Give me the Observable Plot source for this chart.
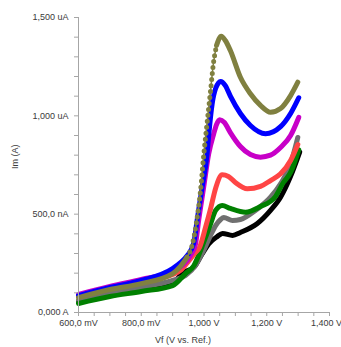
<!DOCTYPE html>
<html>
<head>
<meta charset="utf-8">
<script src="https://cdn.jsdelivr.net/npm/d3@7"></script>
<script src="https://cdn.jsdelivr.net/npm/@observablehq/plot@0.6"></script>
<style>
  html, body { margin: 0; padding: 0; background: #fff; }
  #chart { width: 341px; height: 347px; }
</style>
</head>
<body>
<div id="chart"></div>
<script>
// Potential (mV) vs current (uA)
const olive = [[600,76],[700,117],[800,147],[900,198],[925,234],[946,281],[962,341],[976,458],[989,620],[999,798],[1010,966],[1021,1129],[1030,1266],[1040,1358],[1055,1405],[1068,1383],[1084,1332],[1116,1196],[1148,1112],[1180,1053],[1212,1018],[1244,1037],[1276,1103],[1299,1171]];
const blue = [[600,86],[700,127],[800,163],[900,224],[925,254],[947,290],[967,351],[978,468],[994,636],[1010,809],[1015,900],[1026,1061],[1037,1139],[1053,1175],[1068,1154],[1084,1100],[1116,1012],[1148,951],[1196,909],[1244,945],[1276,1012],[1302,1092]];
const magenta = [[600,92],[700,132],[800,168],[900,208],[931,239],[957,290],[973,349],[983,468],[999,637],[1015,807],[1031,909],[1040,956],[1050,980],[1065,966],[1084,915],[1116,844],[1148,803],[1180,790],[1212,800],[1244,839],[1276,900],[1302,992]];
const red = [[600,81],[700,122],[800,158],[900,193],[925,214],[952,264],[970,300],[986,332],[1005,434],[1022,535],[1038,637],[1058,700],[1078,692],[1100,661],[1138,629],[1180,641],[1212,671],[1244,705],[1276,773],[1299,854]];
const green = [[600,46],[700,81],[800,107],[900,137],[941,198],[968,239],[989,315],[1005,383],[1021,451],[1037,519],[1058,544],[1084,529],[1132,510],[1180,539],[1226,586],[1253,661],[1276,712],[1302,827]];
const gray = [[600,61],[700,97],[800,127],[900,163],[941,188],[973,239],[989,285],[1005,336],[1021,392],[1037,442],[1053,473],[1063,483],[1091,468],[1116,473],[1164,519],[1212,586],[1244,654],[1276,756],[1299,890]];
const black = [[600,56],[700,92],[800,122],[900,153],[936,205],[968,230],[994,298],[1015,349],[1042,386],[1059,402],[1091,392],[1116,407],[1169,451],[1212,519],[1244,586],[1276,692],[1305,815]];

const seriesNames = ["black","gray","green","red","magenta","blue","olive"];
const seriesData = [black, gray, green, red, magenta, blue, olive];
const seriesColors = ["#000000","#707070","#008000","#ff4545","#c800c8","#0000ff","#808040"];

const xTicks = [600, 800, 1000, 1200, 1400];
const xTickLabels = ["600,0 mV", "800,0 mV", "1,000 V", "1,200 V", "1,400 V"];
const yTicks = [0, 500, 1000, 1500];
const yTickLabels = ["0,000 A", "500,0 nA", "1,000 uA", "1,500 uA"];
const xTitle = "Vf (V vs. Ref.)";
const yTitle = "Im (A)";

const rows = seriesData.flatMap((arr, k) => arr.map(([v, i]) => ({series: seriesNames[k], v, i})));
const colorOf = Object.fromEntries(seriesNames.map((n, k) => [n, seriesColors[k]]));

const font = "Liberation Sans, Arial, sans-serif";
const axisColor = "#a6a6a6";
const textColor = "#3a3a3a";

const lineMarks = seriesNames.filter(n => n !== "olive").map(n =>
  Plot.line(rows.filter(d => d.series === n), {x: "v", y: "i", stroke: colorOf[n], strokeWidth: 5, curve: "monotone-x", strokeLinejoin: "round", strokeLinecap: "round"})
);
// olive: solid where points are dense, beaded on the steep rise
const oliveRows = rows.filter(d => d.series === "olive");
const oliveLow = oliveRows.filter(d => d.v <= 946);
const oliveRise = oliveRows.filter(d => d.v >= 946 && d.v <= 1040);
const oliveHigh = oliveRows.filter(d => d.v >= 1040);
const oliveMarks = [
  Plot.line(oliveLow, {x: "v", y: "i", stroke: colorOf.olive, strokeWidth: 5, curve: "monotone-x", strokeLinecap: "round"}),
  Plot.line(oliveRise, {x: "v", y: "i", stroke: colorOf.olive, strokeWidth: 1.5, curve: "monotone-x"}),
  Plot.line(oliveRise, {x: "v", y: "i", stroke: colorOf.olive, strokeWidth: 5, curve: "monotone-x", strokeLinecap: "round", strokeDasharray: "0,6"}),
  Plot.line(oliveHigh, {x: "v", y: "i", stroke: colorOf.olive, strokeWidth: 5, curve: "monotone-x", strokeLinecap: "round", strokeLinejoin: "round"})
];

const fmtX = d => { const k = xTicks.indexOf(d); return k >= 0 && d !== 1400 ? xTickLabels[k] : ""; };
const fmtXLast = d => d === 1400 ? xTickLabels[4] : "";

const chart = Plot.plot({
  width: 341,
  height: 347,
  marginLeft: 78,
  marginRight: 12,
  marginTop: 17,
  marginBottom: 35,
  style: {fontFamily: font, fontSize: "9px", color: textColor, background: "#fff"},
  x: {domain: [600, 1400]},
  y: {domain: [0, 1500]},
  marks: [
    ...lineMarks,
    ...oliveMarks,
    Plot.ruleX([600], {stroke: axisColor, strokeWidth: 1}),
    Plot.ruleY([0], {stroke: axisColor, strokeWidth: 1}),
    Plot.axisX({ticks: d3.range(600, 1401, 50), tickSize: 4, tickPadding: 3, stroke: axisColor, fill: textColor, tickFormat: fmtX, label: null}),
    Plot.axisX({ticks: [1400], tickSize: 0, tickPadding: 7, dx: -3, fill: textColor, tickFormat: fmtXLast, label: null}),
    Plot.axisY({ticks: d3.range(0, 1501, 100), tickSize: 4, tickPadding: 6, stroke: axisColor, fill: textColor,
      tickFormat: d => { const k = yTicks.indexOf(d); return k >= 0 ? yTickLabels[k] : ""; }, label: null}),
    Plot.text([xTitle], {frameAnchor: "bottom", dx: -21, dy: 30, fill: textColor, fontSize: 9, text: d => d}),
    Plot.text([yTitle], {frameAnchor: "left", dx: -63, dy: 4, rotate: -90, fill: textColor, fontSize: 9, text: d => d})
  ]
});
document.getElementById("chart").appendChild(chart);
</script>
</body>
</html>
